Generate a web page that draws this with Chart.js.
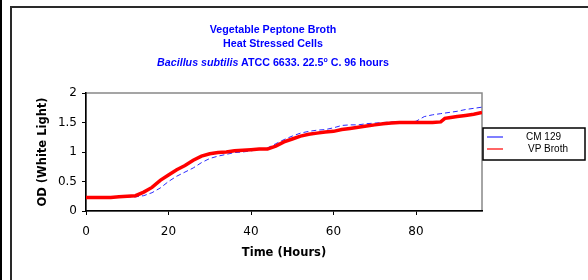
<!DOCTYPE html>
<html>
<head>
<meta charset="utf-8">
<script src="https://cdn.jsdelivr.net/npm/chart.js@4"></script>
<style>
  body { margin: 0; background: #fff; overflow: hidden; }
  #wrap { position: relative; width: 588px; height: 280px; overflow: hidden; }
  canvas { position: absolute; left: 0; top: 0; }
  #title { position: absolute; left: 0; top: 22px; width: 546px; text-align: center; color: #0000ff;
    font: bold 10.7px "Liberation Sans", Arial, sans-serif; line-height: 14.4px; }
  #title .l3 { margin-top: 4px; }
  #title sup { font-size: 7px; line-height: 0; vertical-align: 4px; }
</style>
</head>
<body>
<div id="wrap">
  <canvas id="c" width="588" height="280"></canvas>
  <div id="title">
    <div>Vegetable Peptone Broth</div>
    <div>Heat Stressed Cells</div>
    <div class="l3"><i>Bacillus subtilis</i> ATCC 6633. 22.5<sup>o</sup> C. 96 hours</div>
  </div>
</div>
<script>
// time points (hours)
let hours = [0, 2, 4, 6, 8, 10, 12, 14, 16, 18, 20, 22, 24, 26, 28, 30, 32, 34, 36, 38, 40, 42, 44, 46, 48,
  50, 52, 54, 56, 58, 60, 62, 64, 66, 68, 70, 72, 74, 76, 78, 80, 82, 84, 86, 87, 88, 90, 92, 94, 96]

// CM 129 (blue dashed)
let cm129 = [0.23, 0.23, 0.23, 0.23, 0.23, 0.24, 0.24, 0.26, 0.31, 0.39, 0.50, 0.59, 0.66, 0.73, 0.82, 0.89, 0.93, 0.96, 0.99, 1.00, 1.02, 1.04, 1.07, 1.14, 1.21,
  1.27, 1.32, 1.35, 1.37, 1.38, 1.41, 1.45, 1.46, 1.46, 1.48, 1.49, 1.50, 1.51, 1.51, 1.51, 1.52, 1.60, 1.63, 1.65, 1.66, 1.67, 1.69, 1.72, 1.74, 1.76]

// VP Broth (red)
let vpBroth = [0.23, 0.23, 0.23, 0.23, 0.24, 0.25, 0.26, 0.32, 0.40, 0.52, 0.61, 0.70, 0.77, 0.86, 0.93, 0.97, 0.99, 1.00, 1.02, 1.03, 1.04, 1.05, 1.05, 1.10, 1.17,
  1.22, 1.27, 1.30, 1.32, 1.34, 1.35, 1.38, 1.40, 1.42, 1.44, 1.46, 1.48, 1.49, 1.50, 1.50, 1.50, 1.50, 1.50, 1.51, 1.57, 1.58, 1.60, 1.62, 1.64, 1.67]

let seriesNames = ["CM 129", "VP Broth"]

function pts(vals) {
  return hours.map((h, i) => ({ x: h, y: vals[i] }))
}

// page frame + gray box around the plot (left/bottom get covered by the black axes)
let plotBox = {
  id: 'plotBox',
  beforeDraw(chart) {
    let a = chart.chartArea, ctx = chart.ctx
    ctx.save()
    ctx.strokeStyle = '#000'
    ctx.lineWidth = 2
    ctx.beginPath()
    ctx.moveTo(1, 0)
    ctx.lineTo(1, 280)
    ctx.stroke()
    ctx.strokeStyle = '#2a2a2a'
    ctx.beginPath()
    ctx.moveTo(11, 280)
    ctx.lineTo(11, 7)
    ctx.lineTo(588, 7)
    ctx.stroke()
    ctx.strokeStyle = '#888'
    ctx.lineWidth = 1.5
    ctx.strokeRect(a.left, a.top, a.right - a.left, a.bottom - a.top)
    ctx.restore()
  }
}

// legend in a black box at the right of the plot
let boxLegend = {
  id: 'boxLegend',
  afterDraw(chart) {
    let ctx = chart.ctx
    let x = chart.chartArea.right + 1, y = 128
    ctx.save()
    ctx.fillStyle = '#fff'
    ctx.fillRect(x, y, 102, 32)
    ctx.strokeStyle = '#000'
    ctx.lineWidth = 1.5
    ctx.strokeRect(x, y, 102, 32)
    ctx.font = '10px "Liberation Sans", Arial, sans-serif'
    ctx.textBaseline = 'middle'
    chart.data.datasets.forEach((ds, i) => {
      let ly = y + 9 + i * 12
      ctx.strokeStyle = ds.borderColor
      ctx.lineWidth = 1.2
      ctx.beginPath()
      ctx.moveTo(x + 4, ly)
      ctx.lineTo(x + 20, ly)
      ctx.stroke()
      ctx.fillStyle = '#000'
      ctx.fillText(ds.label, x + 43 + i * 2, ly)
    })
    ctx.restore()
  }
}

let chart = new Chart(document.getElementById('c'), {
  type: 'line',
  data: {
    datasets: [
      {
        label: seriesNames[0],
        data: pts(cm129),
        borderColor: '#2a2aff',
        borderWidth: 1,
        borderDash: [5, 3],
        pointRadius: 0,
        tension: 0,
        order: 1
      },
      {
        label: seriesNames[1],
        data: pts(vpBroth),
        borderColor: '#ff0000',
        borderWidth: 3.5,
        pointRadius: 0,
        tension: 0,
        order: 0
      }
    ]
  },
  options: {
    responsive: false,
    animation: false,
    devicePixelRatio: 1,
    layout: { padding: { left: 0, right: 106, top: 93, bottom: 0 } },
    plugins: {
      legend: { display: false },
      tooltip: { enabled: false }
    },
    scales: {
      x: {
        type: 'linear',
        min: 0,
        max: 96,
        afterFit(s) { s.height = 69 },
        ticks: { stepSize: 20, includeBounds: false, padding: 10, color: '#000',
          font: { family: '"DejaVu Sans", sans-serif', size: 12 } },
        grid: { drawOnChartArea: false, drawTicks: true, tickLength: 4, color: '#000' },
        border: { color: '#000', width: 1.5 },
        title: { display: true, text: 'Time (Hours)', color: '#000', padding: { top: 0, bottom: 20 },
          font: { family: '"DejaVu Sans", sans-serif', size: 11.5, weight: 'bold' } }
      },
      y: {
        min: 0,
        max: 2,
        afterFit(s) { s.width = 86 },
        ticks: { stepSize: 0.5, padding: 5, color: '#000',
          callback: v => String(v),
          font: { family: '"DejaVu Sans", sans-serif', size: 12 } },
        grid: { drawOnChartArea: false, drawTicks: true, tickLength: 4, color: '#000' },
        border: { color: '#000', width: 1.5 },
        title: { display: true, text: 'OD (White Light)', color: '#000', padding: { top: 36, bottom: 0 },
          font: { family: '"DejaVu Sans", sans-serif', size: 11.5, weight: 'bold' } }
      }
    }
  },
  plugins: [plotBox, boxLegend]
})
</script>
</body>
</html>
